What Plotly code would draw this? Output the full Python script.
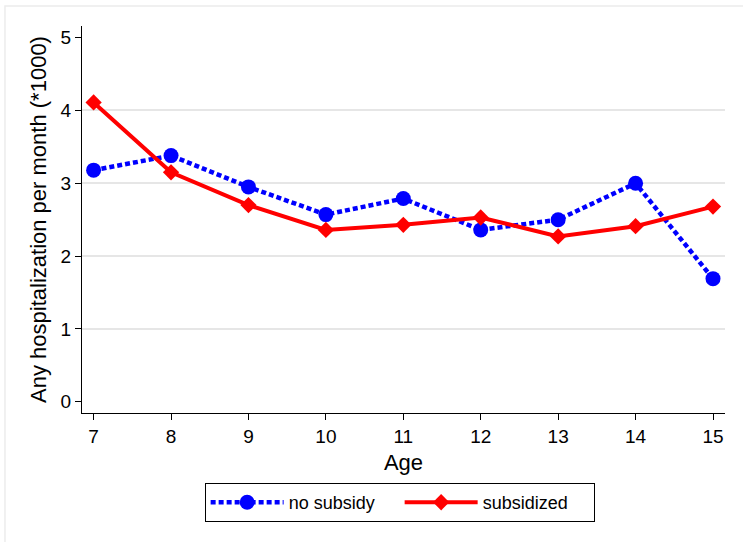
import plotly.graph_objects as go

# Monthly hospitalization rate (*1000) by age
ages = [7, 8, 9, 10, 11, 12, 13, 14, 15]
no_subsidy = [3.18, 3.38, 2.95, 2.57, 2.79, 2.36, 2.50, 3.00, 1.69]
subsidized = [4.11, 3.15, 2.70, 2.36, 2.43, 2.53, 2.27, 2.41, 2.68]

y_ticks = [0, 1, 2, 3, 4, 5]
grid_values = [1, 2, 3, 4]

FONT = "Arial, Liberation Sans, sans-serif"

fig = go.Figure()

fig.add_trace(go.Scatter(
    x=ages, y=no_subsidy, name="no subsidy", mode="lines+markers",
    line=dict(color="#0000ff", width=4.5, dash="5px,3px"),
    marker=dict(symbol="circle", size=15, color="#0000ff"),
))
fig.add_trace(go.Scatter(
    x=ages, y=subsidized, name="subsidized", mode="lines+markers",
    line=dict(color="#ff0000", width=4),
    marker=dict(symbol="diamond", size=12.5, color="#ff0000"),
))

axis_common = dict(
    showline=True, linecolor="black", linewidth=1,
    ticks="outside", ticklen=6, tickwidth=1, tickcolor="black",
    tickfont=dict(size=19, color="black", family=FONT),
    zeroline=False, mirror=False,
)

fig.update_layout(
    width=743, height=542,
    margin=dict(l=82, r=18, t=26, b=129),
    paper_bgcolor="white", plot_bgcolor="white",
    font=dict(family=FONT, color="black"),
    xaxis=dict(
        range=[6.85, 15.155], tickvals=ages, showgrid=False,
        title=dict(text="Age", font=dict(size=22, family=FONT), standoff=8),
        **axis_common,
    ),
    yaxis=dict(
        range=[-0.155, 5.16], tickvals=y_ticks, showgrid=False,
        title=dict(text="Any hospitalization per month (*1000)",
                   font=dict(size=22, family=FONT), standoff=7),
        **axis_common,
    ),
    # interior gridlines only (no lines at the axis extremes)
    yaxis2=dict(
        overlaying="y", matches="y", tickvals=grid_values,
        showgrid=True, gridcolor="#e6e6e6", gridwidth=1.5,
        showticklabels=False, ticks="", showline=False, zeroline=False,
    ),
    legend=dict(
        orientation="h", x=0.494, xanchor="center", y=-0.181, yanchor="top",
        bordercolor="black", borderwidth=1, bgcolor="white",
        font=dict(size=18, family=FONT, color="black"),
        itemwidth=73, entrywidth=106,
    ),
    showlegend=True,
)

# invisible trace anchoring the grid axis
fig.add_trace(go.Scatter(x=[ages[0]], y=[grid_values[0]], yaxis="y2",
                         mode="markers", marker=dict(opacity=0),
                         showlegend=False, hoverinfo="skip"))

# faint outer frame around the graph region
fig.add_shape(type="rect", xref="paper", yref="paper",
              x0=-0.1198, y0=-0.6, x1=1.2, y1=1.0517,
              line=dict(color="#ececec", width=1.5), fillcolor="rgba(0,0,0,0)",
              layer="below")

fig.write_html("out.html")
